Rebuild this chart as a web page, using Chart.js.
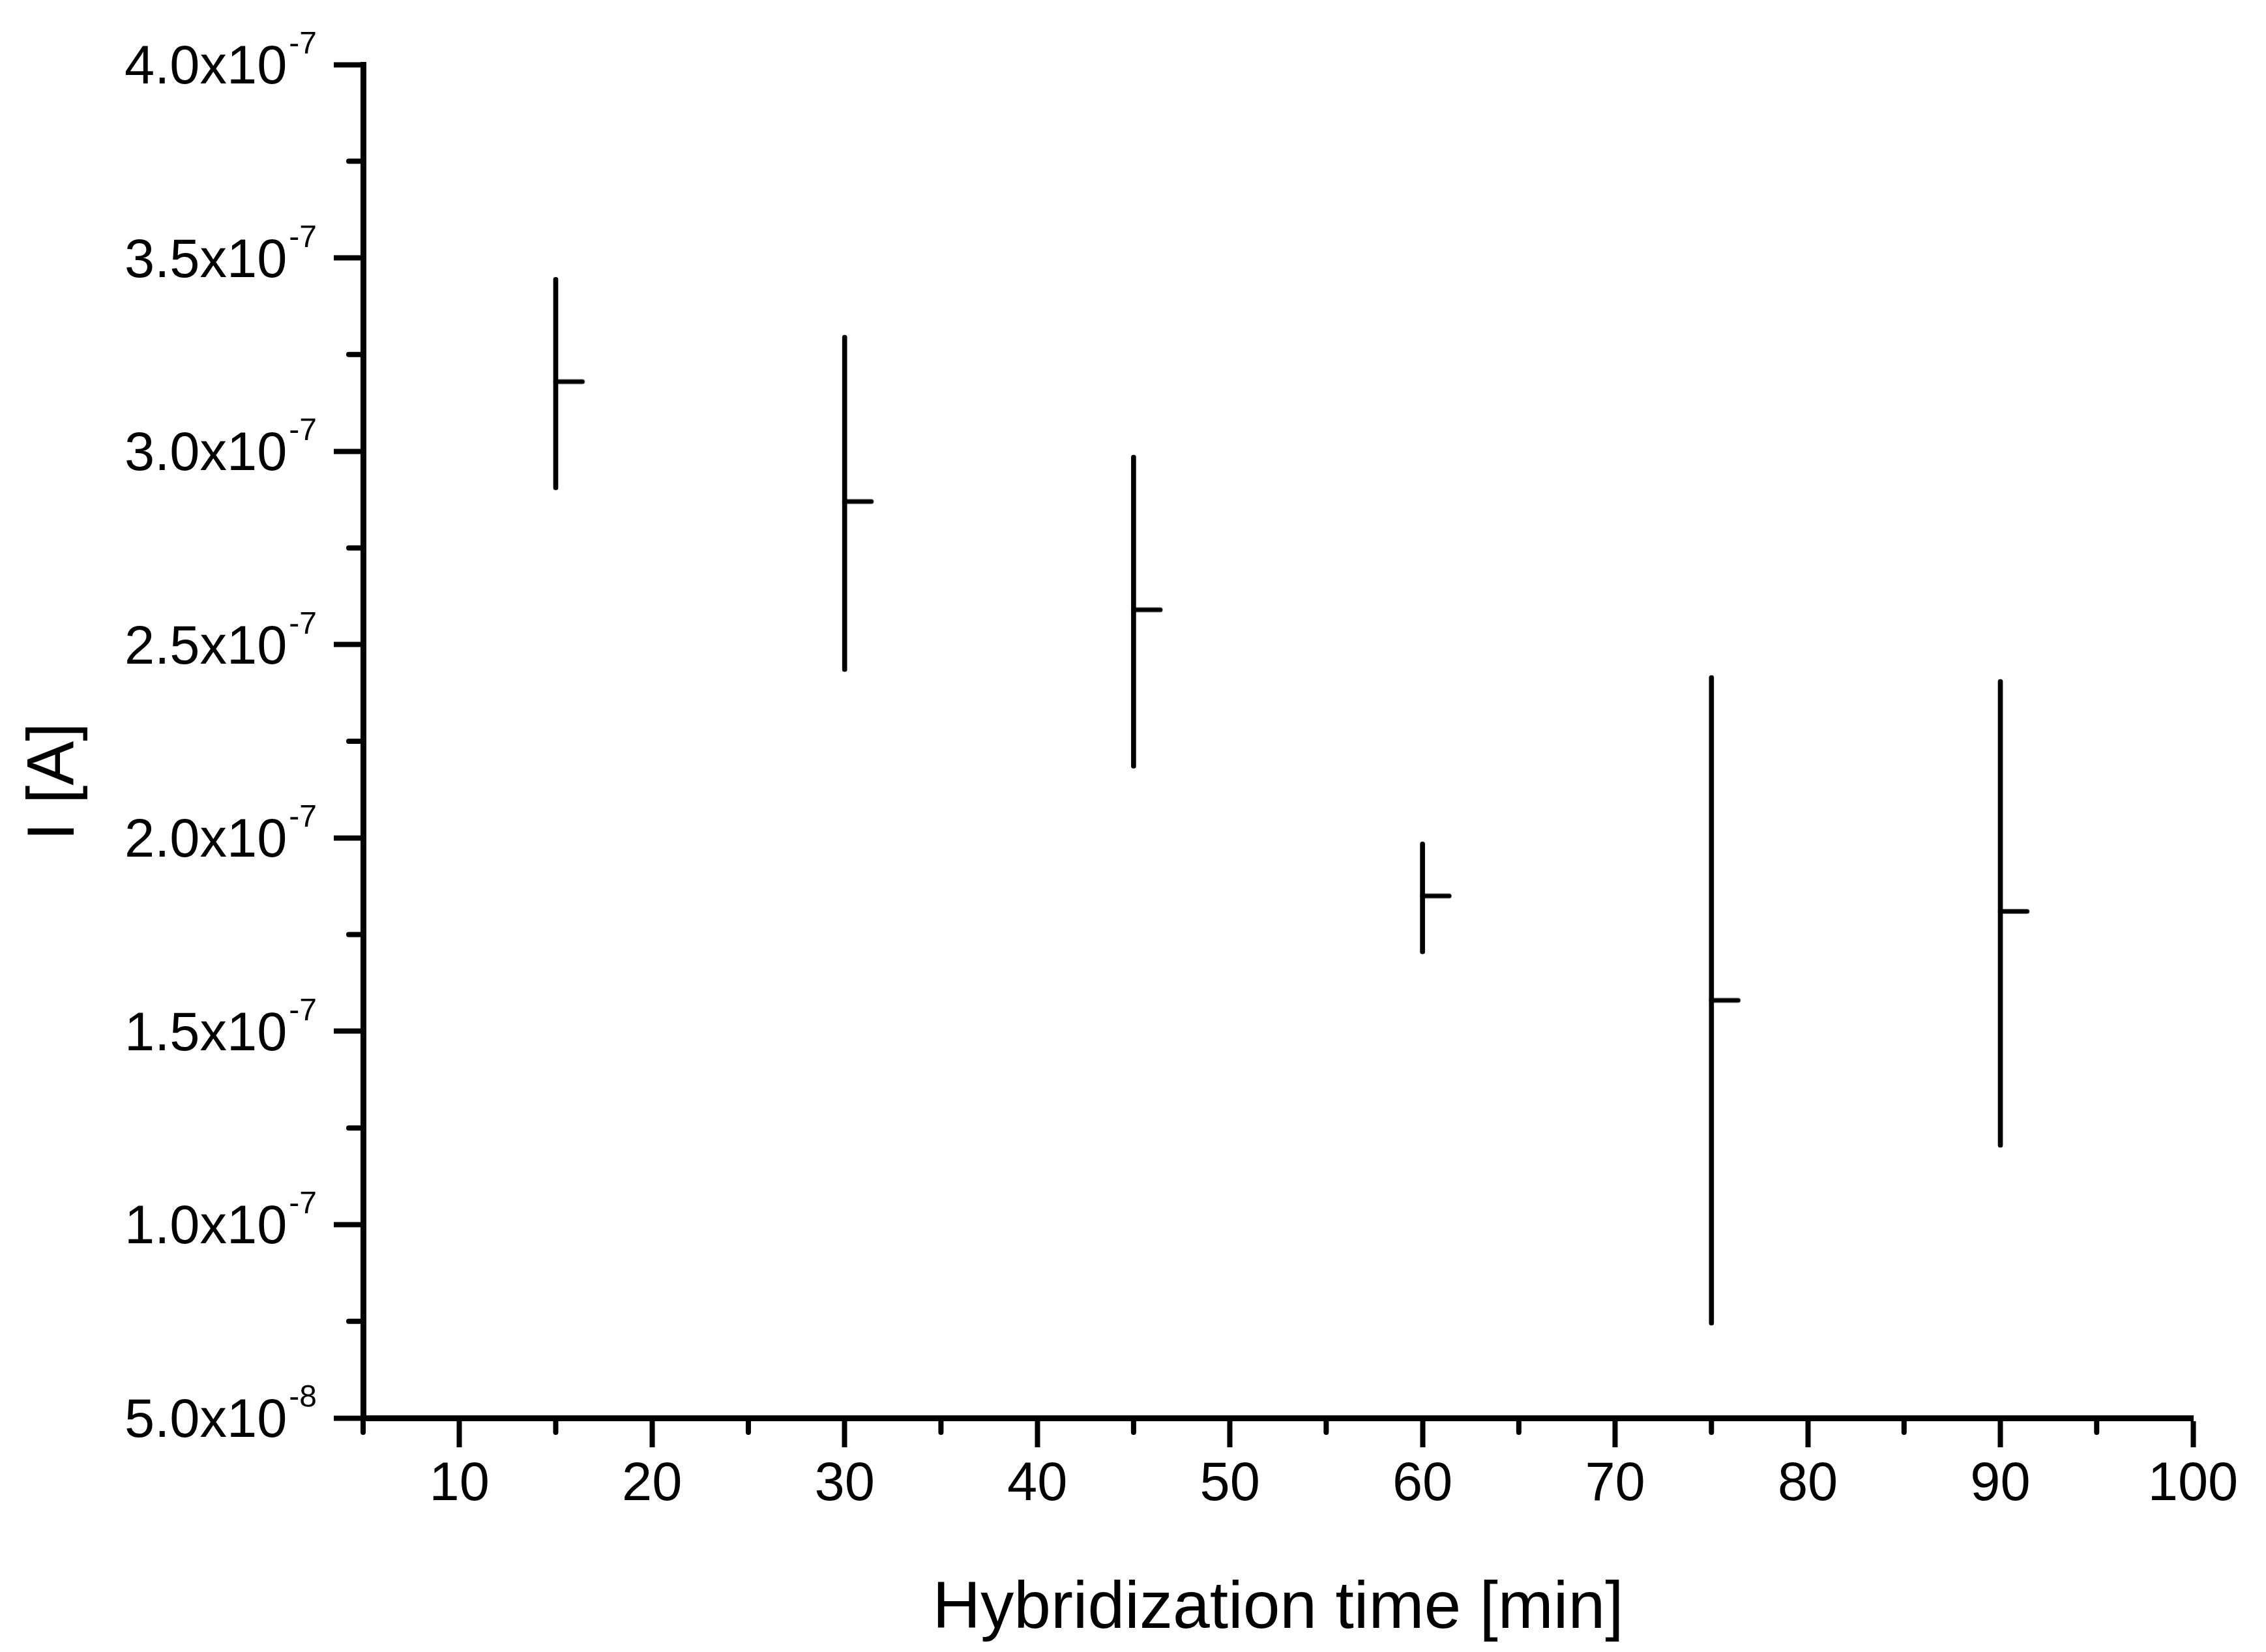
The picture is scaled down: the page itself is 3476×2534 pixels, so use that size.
<!DOCTYPE html>
<html>
<head>
<meta charset="utf-8">
<script src="https://cdn.jsdelivr.net/npm/chart.js@4.4.1/dist/chart.umd.min.js"></script>
<style>
  html, body { margin: 0; padding: 0; background: #fff; }
  #chart { display: block; }
</style>
</head>
<body>
<canvas id="chart" width="3476" height="2534"></canvas>
<script>
const times = [15, 30, 45, 60, 75, 90];
const currentMean = [3.18e-7, 2.87e-7, 2.59e-7, 1.85e-7, 1.58e-7, 1.81e-7];
const currentHigh = [3.45e-7, 3.30e-7, 2.99e-7, 1.99e-7, 2.42e-7, 2.41e-7];
const currentLow = [2.90e-7, 2.43e-7, 2.18e-7, 1.70e-7, 0.74e-7, 1.20e-7];

const xTicks = [10, 20, 30, 40, 50, 60, 70, 80, 90, 100];
const xMinorTicks = [5, 15, 25, 35, 45, 55, 65, 75, 85, 95];
const yTicks = [0.5e-7, 1.0e-7, 1.5e-7, 2.0e-7, 2.5e-7, 3.0e-7, 3.5e-7, 4.0e-7];
const yMinorTicks = [0.75e-7, 1.25e-7, 1.75e-7, 2.25e-7, 2.75e-7, 3.25e-7, 3.75e-7];
const yTickMantissa = ['5.0x10', '1.0x10', '1.5x10', '2.0x10', '2.5x10', '3.0x10', '3.5x10', '4.0x10'];
const yTickExponent = ['-8', '-7', '-7', '-7', '-7', '-7', '-7', '-7'];
const yTitle = 'I [A]';
const xTitle = 'Hybridization time [min]';

const FONT = '"Liberation Sans", Arial, sans-serif';

// short horizontal tick to the right of each range line (mean value)
function makeMeanTick() {
  const half = 48;
  const c = document.createElement('canvas');
  c.width = half * 2;
  c.height = 10;
  const g = c.getContext('2d');
  g.strokeStyle = '#000';
  g.lineWidth = 7;
  g.lineCap = 'round';
  g.beginPath();
  g.moveTo(half, 5);
  g.lineTo(half + 41, 5);
  g.stroke();
  return c;
}

const axisExtras = {
  id: 'axisExtras',
  afterDraw(chart) {
    const ctx = chart.ctx;
    const xs = chart.scales.x;
    const ys = chart.scales.y;
    const area = chart.chartArea;
    ctx.save();
    ctx.strokeStyle = '#000';
    ctx.lineWidth = 8;
    ctx.lineCap = 'round';
    // minor ticks
    ctx.beginPath();
    xMinorTicks.forEach(v => {
      const px = xs.getPixelForValue(v);
      ctx.moveTo(px, area.bottom);
      ctx.lineTo(px, area.bottom + 22);
    });
    yMinorTicks.forEach(v => {
      const py = ys.getPixelForValue(v);
      ctx.moveTo(area.left, py);
      ctx.lineTo(area.left - 22, py);
    });
    ctx.stroke();

    // y tick labels with superscript exponent
    ctx.fillStyle = '#000';
    ctx.textBaseline = 'alphabetic';
    ctx.textAlign = 'right';
    const xRight = area.left - 71;
    yTicks.forEach((v, i) => {
      const py = ys.getPixelForValue(v);
      ctx.font = '48px ' + FONT;
      ctx.fillText(yTickExponent[i], xRight, py - 17);
      const w = ctx.measureText(yTickExponent[i]).width;
      ctx.font = '83px ' + FONT;
      ctx.fillText(yTickMantissa[i], xRight - w - 3, py + 29);
    });

    // y axis title
    ctx.translate(85, 1199);
    ctx.rotate(-Math.PI / 2);
    ctx.font = '102px ' + FONT;
    ctx.textAlign = 'center';
    ctx.textBaseline = 'middle';
    ctx.fillText(yTitle, 0, 0);
    ctx.restore();
  }
};

new Chart(document.getElementById('chart'), {
  type: 'bar',
  data: {
    datasets: [
      {
        type: 'bar',
        label: 'range',
        data: times.map((t, i) => ({ x: t, y: [currentLow[i], currentHigh[i]] })),
        backgroundColor: '#000',
        borderWidth: 0,
        borderRadius: 3.5,
        borderSkipped: false,
        barThickness: 7,
        grouped: false
      },
      {
        type: 'scatter',
        label: 'mean',
        data: times.map((t, i) => ({ x: t, y: currentMean[i] })),
        pointStyle: makeMeanTick(),
        pointRadius: 10,
        showLine: false
      }
    ]
  },
  options: {
    responsive: false,
    devicePixelRatio: 1,
    animation: false,
    layout: { padding: { left: 0, top: 99, right: 112, bottom: 0 } },
    plugins: { legend: { display: false }, tooltip: { enabled: false } },
    scales: {
      x: {
        type: 'linear',
        min: 5,
        max: 100,
        offset: false,
        afterBuildTicks: s => { s.ticks = xTicks.map(v => ({ value: v })); },
        afterFit: s => { s.height = 359; },
        border: { display: true, color: '#000', width: 9 },
        grid: { display: true, offset: false, drawOnChartArea: false, drawTicks: true, tickLength: 45, tickWidth: 8, tickColor: '#000' },
        ticks: { color: '#000', font: { family: FONT, size: 83 }, padding: 8, maxRotation: 0, autoSkip: false },
        title: { display: true, text: xTitle, color: '#000', font: { family: FONT, size: 102, lineHeight: 1.2 }, padding: { top: 0, bottom: 4 } }
      },
      y: {
        type: 'linear',
        min: 0.5e-7,
        max: 4.0e-7,
        afterBuildTicks: s => { s.ticks = yTicks.map(v => ({ value: v })); },
        afterFit: s => { s.width = 557; },
        border: { display: true, color: '#000', width: 9 },
        grid: { display: true, drawOnChartArea: false, drawTicks: true, tickLength: 45, tickWidth: 8, tickColor: '#000' },
        ticks: { display: false },
        title: { display: false }
      }
    }
  },
  plugins: [axisExtras]
});
</script>
</body>
</html>
